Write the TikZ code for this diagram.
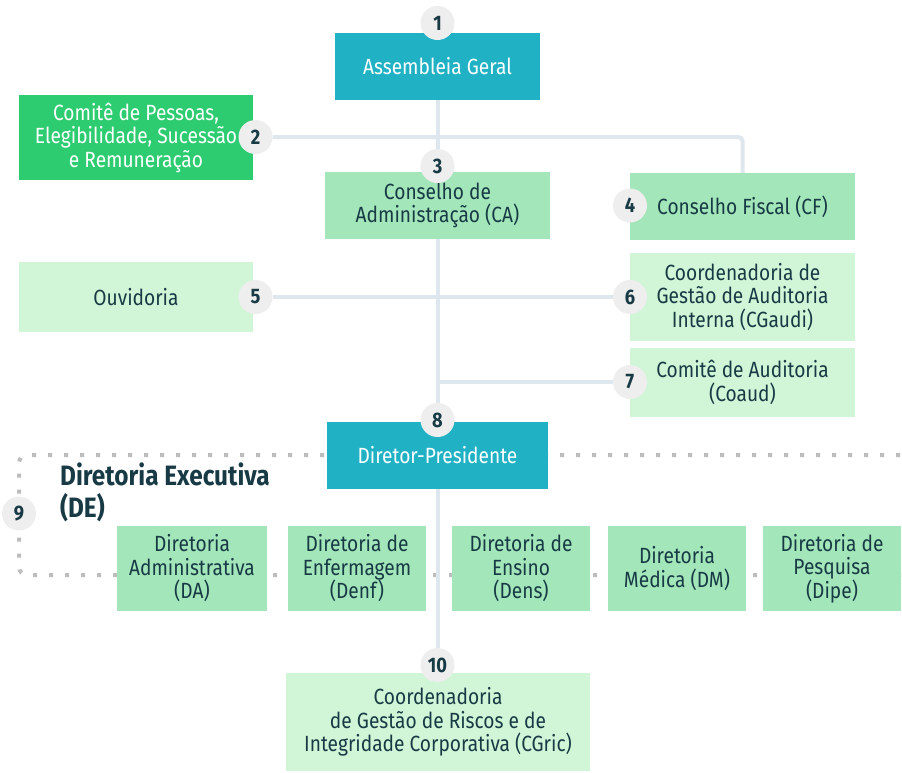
\documentclass[tikz,border=0pt]{standalone}
\usepackage{fontspec}
\setmainfont{Fira Sans}[FakeStretch=0.87]
\definecolor{cTeal}{HTML}{20B2C4}
\definecolor{cGreen}{HTML}{2ECC71}
\definecolor{cMid}{HTML}{A3E6BA}
\definecolor{cLight}{HTML}{D1F5D7}
\definecolor{cText}{HTML}{173A45}
\definecolor{cLine}{HTML}{DFE7EE}
\definecolor{cBadge}{HTML}{EEEEEE}
\definecolor{cDot}{HTML}{BDBDBD}
\pgfdeclarelayer{bg}
\pgfsetlayers{bg,main}
\begin{document}
\begin{tikzpicture}[x=1pt,y=-1pt,
 box/.style={rectangle, inner sep=0pt, align=center, text=cText, font=\fontsize{22}{23.5}\selectfont},
 darkbox/.style={box, fill=cTeal, text=white},
 midbox/.style={box, fill=cMid},
 lightbox/.style={box, fill=cLight},
 badge/.style={circle, fill=cBadge, minimum size=34pt, inner sep=0pt, text=cText, font=\bfseries\fontsize{21}{21}\selectfont},
 conn/.style={draw=cLine, line width=4pt},
 dotline/.style={draw=cDot, line width=4pt, dash pattern=on 4pt off 12pt}]
\useasboundingbox (0,0) rectangle (902,772);

\node[darkbox, minimum width=205pt, minimum height=67pt] (ag) at (437.5,66.5) {Assembleia Geral};
\node[box, fill=cGreen, text=white, minimum width=234pt, minimum height=85pt] (cp) at (136,137.5) {Comitê de Pessoas,\\Elegibilidade, Sucessão\\e Remuneração};
\node[midbox, minimum width=225pt, minimum height=67pt] (ca) at (437.5,205.5) {Conselho de\\Administração (CA)};
\node[midbox, minimum width=225pt, minimum height=67pt] (cf) at (742.5,206.5) {Conselho Fiscal (CF)};
\node[lightbox, minimum width=234pt, minimum height=70pt] (ouv) at (136,297) {Ouvidoria};
\node[lightbox, minimum width=225pt, minimum height=88pt] (cga) at (742.5,297) {Coordenadoria de\\Gestão de Auditoria\\Interna (CGaudi)};
\node[lightbox, minimum width=225pt, minimum height=69pt] (coa) at (742.5,382.5) {Comitê de Auditoria\\(Coaud)};
\node[darkbox, minimum width=221pt, minimum height=67pt] (dp) at (437.5,455) {Diretor-Presidente};
\node[anchor=west, align=left, inner sep=0pt, text=cText, font=\bfseries\fontsize{28}{32}\selectfont] (de) at (60,492) {Diretoria Executiva\\(DE)};
\node[midbox, minimum width=150pt, minimum height=85pt] (da) at (192,568.5) {Diretoria\\Administrativa\\(DA)};
\node[midbox, minimum width=138pt, minimum height=85pt] (denf) at (357,568.5) {Diretoria de\\Enfermagem\\(Denf)};
\node[midbox, minimum width=138pt, minimum height=85pt] (dens) at (521,568.5) {Diretoria de\\Ensino\\(Dens)};
\node[midbox, minimum width=138pt, minimum height=85pt] (dm) at (677,568.5) {Diretoria\\Médica (DM)};
\node[midbox, minimum width=138pt, minimum height=85pt] (dipe) at (832,568.5) {Diretoria de\\Pesquisa\\(Dipe)};
\node[lightbox, minimum width=304pt, minimum height=98pt] (cgr) at (438,722) {Coordenadoria\\de Gestão de Riscos e de\\Integridade Corporativa (CGric)};

\node[badge] (b1) at (437.5,23) {1};
\node[badge] (b2) at (255.5,137) {2};
\node[badge] (b3) at (437.5,166) {3};
\node[badge] (b4) at (630,205.5) {4};
\node[badge] (b5) at (255.5,297) {5};
\node[badge] (b6) at (630,297) {6};
\node[badge] (b7) at (630,382) {7};
\node[badge] (b8) at (437.5,420) {8};
\node[badge] (b9) at (19,513.5) {9};
\node[badge] (b10) at (437.5,665) {10};

\begin{pgfonlayer}{bg}
\fill[white] (0,0) rectangle (902,772);
\draw[dotline, rounded corners=8pt] (916,455) -- (19,455) -- (19,575) -- (916,575);
\draw[conn] (ag) -- (b10);
\draw[conn, rounded corners=4pt] (b2) -- (cf.north |- b2) -- (cf.north);
\draw[conn] (b5) -- (b6);
\draw[conn] (ag |- b7) -- (b7);
\end{pgfonlayer}
\end{tikzpicture}
\end{document}
